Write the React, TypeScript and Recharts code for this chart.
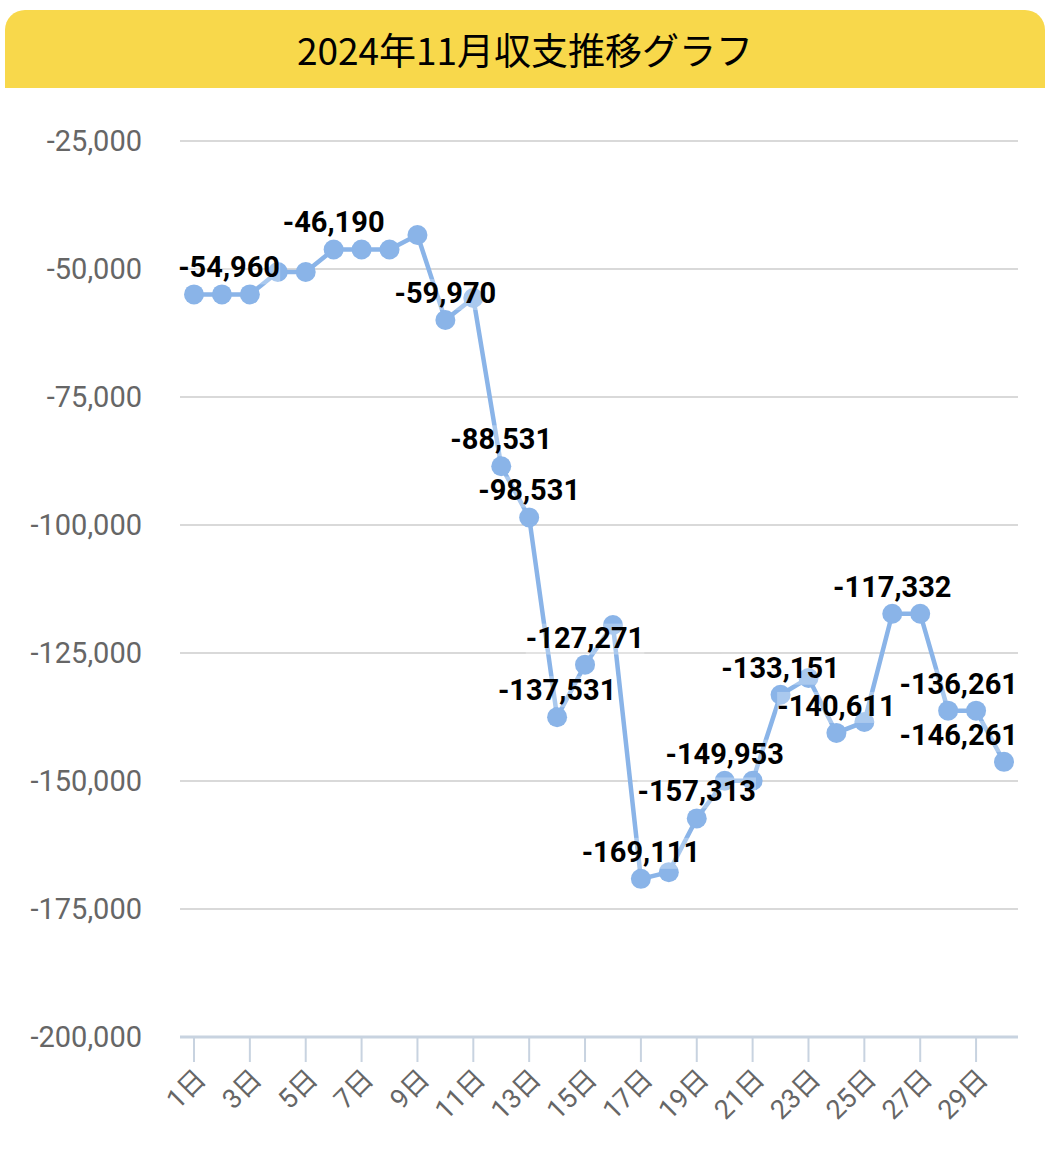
import { LineChart, Line, XAxis, YAxis, CartesianGrid, LabelList } from "recharts";

const days = [
  "1日", "2日", "3日", "4日", "5日", "6日", "7日", "8日", "9日", "10日",
  "11日", "12日", "13日", "14日", "15日", "16日", "17日", "18日", "19日", "20日",
  "21日", "22日", "23日", "24日", "25日", "26日", "27日", "28日", "29日", "30日",
];

// running balance per day
const balance = [
  -54960, -54960, -54960, -50590, -50590, -46190, -46190, -46190, -43360, -59970,
  -55660, -88531, -98531, -137531, -127271, -119530, -169111, -167800, -157313, -149953,
  -149953, -133151, -129880, -140611, -138470, -117332, -117332, -136261, -136261, -146261,
];

// days whose value label is shown
const labeledDays = ["1日", "6日", "10日", "12日", "13日", "14日", "15日", "17日", "19日", "20日", "22日", "24日", "26日", "29日", "30日"];

const yTicks = [-200000, -175000, -150000, -125000, -100000, -75000, -50000, -25000];

const data = days.map((day, i) => ({ day, value: balance[i], show: labeledDays.includes(day) }));

const W = 1048;
const H = 1161;
const PLOT_LEFT = 180;
const PLOT_RIGHT = 1016;
const LABEL_FS = 29;

const fmt = (v: number) => v.toLocaleString("en-US");

function textWidth(s: string, fs: number) {
  let w = 0;
  for (const c of s) w += c === "-" ? 0.33 : c === "," ? 0.23 : 0.565;
  return w * fs;
}

function ValueLabel(props: any) {
  const { x, y, index } = props;
  const d = data[index];
  if (!d || !d.show) return null;
  const txt = fmt(d.value);
  const w = textWidth(txt, LABEL_FS);
  let cx = x;
  if (cx - w / 2 < PLOT_LEFT) cx = PLOT_LEFT + w / 2;
  if (cx + w / 2 > PLOT_RIGHT) cx = PLOT_RIGHT - w / 2;
  const base = y - 17;
  return (
    <g>
      <rect x={cx - w / 2 - 2} y={base - 24} width={w + 4} height={31} fill="#ffffff" fillOpacity={0.28} />
      <text x={cx} y={base} textAnchor="middle" fill="#000" fontSize={LABEL_FS} fontWeight={700} fontFamily="Roboto">
        {txt}
      </text>
    </g>
  );
}

export default function App() {
  return (
    <div style={{ position: "absolute", left: 0, top: 0, width: W, height: H, background: "#fff" }}>
      <LineChart
        width={W}
        height={H}
        data={data}
        margin={{ top: 141, right: W - 1018, left: 0, bottom: 0 }}
        style={{ position: "absolute", left: 0, top: 0 }}
      >
        <CartesianGrid stroke="#d9d9d9" strokeWidth={2} vertical={false} />
        <XAxis
          dataKey="day"
          interval={1}
          height={124}
          padding={{ left: 14, right: 14 }}
          tickSize={25}
          tickMargin={5}
          angle={-45}
          textAnchor="end"
          axisLine={{ stroke: "#c8d3e0", strokeWidth: 3 }}
          tickLine={{ stroke: "#c8d3e0", strokeWidth: 2 }}
          tick={{ fill: "#666", fontSize: 27, fontFamily: "Roboto, 'Noto Sans CJK JP'" }}
        />
        <YAxis
          type="number"
          domain={[-200000, -25000]}
          ticks={yTicks}
          width={180}
          axisLine={false}
          tickLine={false}
          tickMargin={32}
          tickFormatter={fmt}
          tick={{ fill: "#666", fontSize: 29, fontFamily: "Roboto" }}
        />
        <Line
          type="linear"
          dataKey="value"
          stroke="#8ab4e8"
          strokeWidth={4.5}
          dot={{ r: 10, fill: "#8ab4e8", stroke: "none" }}
          activeDot={false}
          isAnimationActive={false}
        >
          <LabelList dataKey="value" content={ValueLabel} />
        </Line>
      </LineChart>
      <div
        style={{
          position: "absolute",
          left: 5,
          top: 10,
          width: 1040,
          height: 78,
          background: "#f8d84b",
          borderRadius: "20px 20px 0 0",
          display: "flex",
          alignItems: "center",
          justifyContent: "center",
          fontFamily: "'Noto Sans CJK JP', sans-serif",
          fontSize: 37,
          color: "#000",
        }}
      >
        2024年11月収支推移グラフ
      </div>
    </div>
  );
}
